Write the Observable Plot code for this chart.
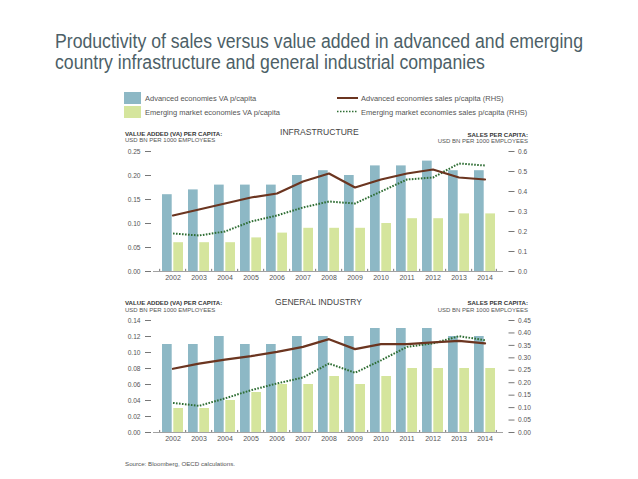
<!DOCTYPE html>
<html>
<head>
<meta charset="utf-8">
<script src="https://cdn.jsdelivr.net/npm/d3@7"></script>
<script src="https://cdn.jsdelivr.net/npm/@observablehq/plot@0.6"></script>
<style>
  html, body { margin: 0; padding: 0; background: #fff; }
  #wrap { position: relative; width: 638px; height: 479px; overflow: hidden; font-family: "Liberation Sans", Arial, sans-serif; }
  .abs { position: absolute; white-space: nowrap; }
  #title { left: 55px; top: 31px; font-family: "Liberation Sans", Arial, sans-serif; font-size: 19.5px; line-height: 21px; color: #4d5f67; transform-origin: 0 0; }
  .sw { position: absolute; width: 17px; height: 12px; }
  .leg { font-size: 7.5px; color: #555; }
  .hdrB { font-size: 6.1px; font-weight: bold; color: #333; }
  .hdr { font-size: 6px; color: #555; }
  .ptitle { font-size: 8.6px; color: #444; }
  .src { font-size: 6.2px; color: #555; }
  .plot { position: absolute; left: 0; }
</style>
</head>
<body>
<div id="wrap">
  <div id="title" class="abs">Productivity of sales versus value added in advanced and emerging<br>country infrastructure and general industrial companies</div>

  <div class="sw" style="left:124px;top:92px;background:#8db8c5"></div>
  <div class="sw" style="left:124px;top:106px;background:#d5e59d"></div>
  <div class="abs leg" style="left:145px;top:94px">Advanced economies VA p/capita</div>
  <div class="abs leg" style="left:145px;top:107.5px">Emerging market economies VA p/capita</div>
  <svg class="abs" style="left:336px;top:92px" width="24" height="24">
    <line x1="1" x2="22" y1="6" y2="6" stroke="#6b3520" stroke-width="2"/>
    <line x1="1" x2="22" y1="19.5" y2="19.5" stroke="#2f6e34" stroke-width="1.6" stroke-dasharray="1.5,1.5"/>
  </svg>
  <div class="abs leg" style="left:361px;top:94px">Advanced economies sales p/capita (RHS)</div>
  <div class="abs leg" style="left:361px;top:107.5px">Emerging market economies sales p/capita (RHS)</div>

  <div class="abs hdrB" style="left:125px;top:130px">VALUE ADDED (VA) PER CAPITA:</div>
  <div class="abs hdr" style="left:125px;top:137px">USD BN PER 1000 EMPLOYEES</div>
  <div class="abs ptitle" style="left:280px;top:127px">INFRASTRUCTURE</div>
  <div class="abs hdrB" style="right:110px;top:131px">SALES PER CAPITA:</div>
  <div class="abs hdr" style="right:110px;top:138px">USD BN PER 1000 EMPLOYEES</div>

  <div class="abs hdrB" style="left:125px;top:299px">VALUE ADDED (VA) PER CAPITA:</div>
  <div class="abs hdr" style="left:125px;top:306.5px">USD BN PER 1000 EMPLOYEES</div>
  <div class="abs ptitle" style="left:275px;top:297px">GENERAL INDUSTRY</div>
  <div class="abs hdrB" style="right:110px;top:299px">SALES PER CAPITA:</div>
  <div class="abs hdr" style="right:110px;top:306.5px">USD BN PER 1000 EMPLOYEES</div>

  <div id="p1" class="plot" style="top:140px"></div>
  <div id="p2" class="plot" style="top:309px"></div>

  <div class="abs src" style="left:125px;top:460px">Source: Bloomberg, OECD calculations.</div>
</div>
<script>
const years = [2002, 2003, 2004, 2005, 2006, 2007, 2008, 2009, 2010, 2011, 2012, 2013, 2014];

// Infrastructure
const infraAdvVA = [0.16, 0.17, 0.18, 0.18, 0.18, 0.20, 0.21, 0.20, 0.22, 0.22, 0.23, 0.21, 0.21];
const infraEmVA = [0.06, 0.06, 0.06, 0.07, 0.08, 0.09, 0.09, 0.09, 0.10, 0.11, 0.11, 0.12, 0.12];
const infraAdvSales = [0.28, 0.31, 0.34, 0.37, 0.39, 0.45, 0.49, 0.42, 0.46, 0.49, 0.51, 0.47, 0.46];
const infraEmSales = [0.19, 0.18, 0.20, 0.25, 0.28, 0.32, 0.35, 0.34, 0.40, 0.46, 0.47, 0.54, 0.53];
const infraLeftTicks = [0, 0.05, 0.10, 0.15, 0.20, 0.25];
const infraRightTicks = [0, 0.1, 0.2, 0.3, 0.4, 0.5, 0.6];

// General industry
const genAdvVA = [0.11, 0.11, 0.12, 0.11, 0.11, 0.12, 0.12, 0.12, 0.13, 0.13, 0.13, 0.12, 0.12];
const genEmVA = [0.03, 0.03, 0.04, 0.05, 0.06, 0.06, 0.07, 0.06, 0.07, 0.08, 0.08, 0.08, 0.08];
const genAdvSales = [0.256, 0.277, 0.293, 0.307, 0.324, 0.344, 0.375, 0.335, 0.355, 0.355, 0.362, 0.368, 0.358];
const genEmSales = [0.119, 0.107, 0.137, 0.170, 0.197, 0.221, 0.277, 0.240, 0.290, 0.344, 0.358, 0.387, 0.371];
const genLeftTicks = [0, 0.02, 0.04, 0.06, 0.08, 0.10, 0.12, 0.14];
const genRightTicks = [0, 0.05, 0.10, 0.15, 0.20, 0.25, 0.30, 0.35, 0.40, 0.45];

// fit title line width to the reference (about 528px wide)
const titleEl = document.getElementById("title");
const tw = titleEl.getBoundingClientRect().width;
titleEl.style.transform = `scaleX(${528 / tw})`;

function panel(o) {
  const leftMax = o.leftTicks[o.leftTicks.length - 1];
  const rightMax = o.rightTicks[o.rightTicks.length - 1];
  const k = leftMax / rightMax;
  const rows = years.map((y, i) => ({
    year: y, advVA: o.advVA[i], emVA: o.emVA[i], advS: o.advS[i] * k, emS: o.emS[i] * k
  }));
  const step = (638 - 153 - 133) / (years.length + 0.19);
  return Plot.plot({
    width: 638,
    height: o.height,
    marginLeft: 153,
    marginRight: 133,
    marginTop: 11,
    marginBottom: o.marginBottom,
    style: { fontFamily: "'Liberation Sans', Arial, sans-serif", fontSize: "6.6px", color: "#555", background: "transparent", overflow: "visible" },
    x: { type: "band", domain: years, padding: 0.19, axis: null },
    y: { domain: [0, leftMax], axis: null },
    marks: [
      Plot.barY(rows, { x: "year", y: "advVA", fill: "#8db8c5", insetRight: 11.3 }),
      Plot.barY(rows, { x: "year", y: "emVA", fill: "#d5e59d", insetLeft: 11.3 }),
      Plot.ruleY([0], { stroke: "#8a8a8a", strokeWidth: 0.8, insetRight: 2 }),
      Plot.ruleX(years, { x: d => d, y1: 0, y2: leftMax * 0.018, dx: -step / 2, stroke: "#555", strokeWidth: 0.8 }),
      Plot.ruleX([years[years.length - 1]], { x: d => d, y1: 0, y2: leftMax * 0.018, dx: step / 2 - 2, stroke: "#555", strokeWidth: 0.8 }),
      Plot.line(rows, { x: "year", y: "emS", stroke: "#2f6e34", strokeWidth: 2, strokeDasharray: "1.6,1.4", strokeLinecap: "butt" }),
      Plot.line(rows, { x: "year", y: "advS", stroke: "#6b3520", strokeWidth: 2.2 }),
      Plot.axisX({ tickSize: 0, tickPadding: 4, fontSize: 7, fill: "#555", tickFormat: d => String(d), label: null }),
      Plot.axisY({ anchor: "left", ticks: o.leftTicks, tickFormat: d => d.toFixed(2), tickSize: 6, tickPadding: 5, dx: -2, stroke: "#777", fill: "#555", label: null }),
      Plot.axisY({ anchor: "right", ticks: o.rightTicks.map(t => t * k), tickFormat: d => (d / k).toFixed(o.rightDigits), tickSize: 6, tickPadding: 4, dx: 2.5, stroke: "#777", fill: "#555", label: null })
    ]
  });
}

document.getElementById("p1").appendChild(panel({
  advVA: infraAdvVA, emVA: infraEmVA, advS: infraAdvSales, emS: infraEmSales,
  leftTicks: infraLeftTicks, rightTicks: infraRightTicks, rightDigits: 1,
  height: 150, marginBottom: 19
}));
document.getElementById("p2").appendChild(panel({
  advVA: genAdvVA, emVA: genEmVA, advS: genAdvSales, emS: genEmSales,
  leftTicks: genLeftTicks, rightTicks: genRightTicks, rightDigits: 2,
  height: 143, marginBottom: 20
}));
</script>
</body>
</html>
